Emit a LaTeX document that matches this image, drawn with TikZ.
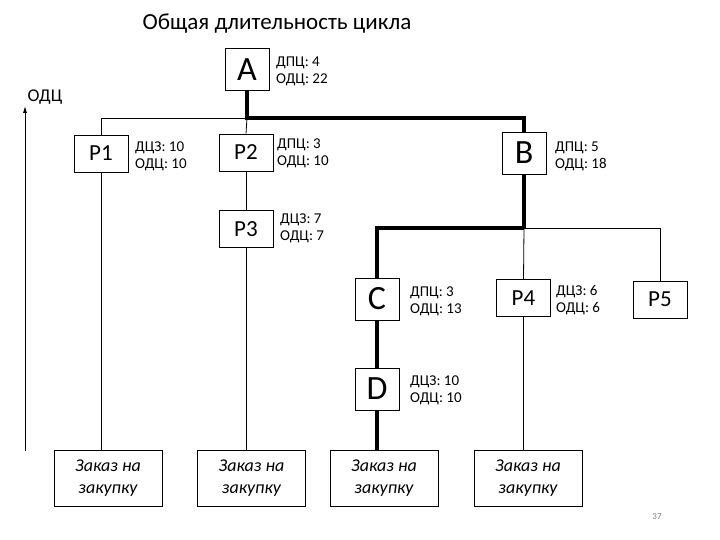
\documentclass[tikz,border=0pt]{standalone}
\usepackage{fontspec}
\setmainfont{Carlito}
\usetikzlibrary{arrows.meta}

\tikzset{
  letterbox/.style={draw,line width=0.8pt,minimum width=44pt,minimum height=42pt,inner sep=0pt,font=\fontsize{34}{34}\selectfont},
  partbox/.style={draw,line width=0.8pt,minimum width=54pt,minimum height=37pt,inner sep=0pt,font=\fontsize{23}{23}\selectfont},
  orderbox/.style={draw,line width=0.8pt,minimum width=108pt,minimum height=56pt,inner sep=0pt,align=center,font=\fontsize{18}{22}\selectfont\itshape},
  info/.style={anchor=west,align=left,inner sep=0pt,font=\fontsize{15}{17}\selectfont},
  crit/.style={line width=4pt},
  thinline/.style={line width=0.8pt}
}

\begin{document}
\begin{tikzpicture}[x=1pt,y=-1pt]
    \useasboundingbox (0,0) rectangle (720,540);
    \node[] at (277,24) (title) {\fontsize{23}{23}\selectfont Общая длительность цикла};
    \node[] at (45,97) (odc) {\fontsize{18}{18}\selectfont ОДЦ};
    \coordinate (axb) at (25,451);
    \coordinate (axt) at (25,106);
    \draw[thinline,-{Latex[length=7pt,width=4pt]}] (axb) -- (axt);

    \node[letterbox] at (247,69.5) (a) {A};
    \node[letterbox] at (524,153) (b) {B};
    \node[letterbox] at (377,299) (c) {C};
    \node[letterbox] at (377,389) (d) {D};
    \node[partbox] at (101,153.5) (p1) {P1};
    \node[partbox] at (246,152.5) (p2) {P2};
    \node[partbox] at (246,229) (p3) {P3};
    \node[partbox] at (523.5,298) (p4) {P4};
    \node[partbox] at (660,299.5) (p5) {P5};
    \node[orderbox] at (108,478) (z1) {Заказ на\\закупку};
    \node[orderbox] at (251.5,478) (z2) {Заказ на\\закупку};
    \node[orderbox] at (384,478) (z3) {Заказ на\\закупку};
    \node[orderbox] at (528,478) (z4) {Заказ на\\закупку};

    \node[info] at (276,71) (la) {ДПЦ: 4\\ОДЦ: 22};
    \node[info] at (135,156) (lp1) {ДЦЗ: 10\\ОДЦ: 10};
    \node[info] at (277,153) (lp2) {ДПЦ: 3\\ОДЦ: 10};
    \node[info] at (555,156) (lb) {ДПЦ: 5\\ОДЦ: 18};
    \node[info] at (280,228) (lp3) {ДЦЗ: 7\\ОДЦ: 7};
    \node[info] at (410,301) (lc) {ДПЦ: 3\\ОДЦ: 13};
    \node[info] at (410,390) (ld) {ДЦЗ: 10\\ОДЦ: 10};
    \node[info] at (556,300) (lp4) {ДЦЗ: 6\\ОДЦ: 6};
    \node[] at (657,517) (page) {\fontsize{9}{9}\selectfont\color{gray}37};

    \coordinate (ja) at (247,118);
    \coordinate (jb) at (524,228);
    \draw[thinline] (p1.north) |- (ja);
    \draw[thinline] (ja) -- (p2.north);
    \draw[crit] (a.south) -- (ja) -| (b.north);
    \draw[thinline] (p1.south) -- (p1.south |- z1.north);
    \draw[thinline] (p2.south) -- (p3.north);
    \draw[thinline] (p3.south) -- (p3.south |- z2.north);
    \draw[crit] (b.south) -- (jb);
    \draw[crit] (jb) -| (c.north);
    \draw[thinline] (jb) -| (p5.north);
    \draw[thinline] (jb) -- (p4.north);
    \draw[crit] (c.south) -- (d.north);
    \draw[crit] (d.south) -- (d.south |- z3.north);
    \draw[thinline] (p4.south) -- (p4.south |- z4.north);
\end{tikzpicture}
\end{document}
